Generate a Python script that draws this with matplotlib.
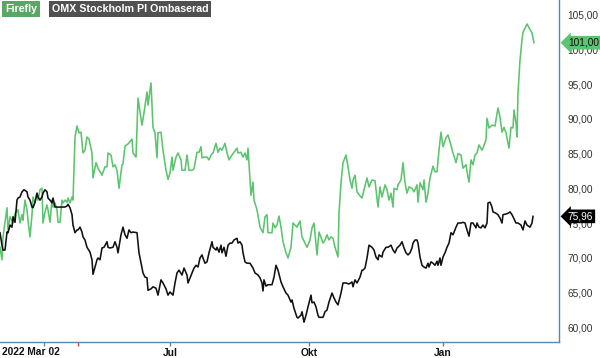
import matplotlib
matplotlib.use("Agg")
import matplotlib.pyplot as plt
import matplotlib.transforms as mtransforms

plt.rcParams['font.family'] = ['Liberation Sans', 'DejaVu Sans']

# handelsdag (x) och kurs (y)
firefly_dag = [0, 1, 1.5, 3.5, 4, 5, 6.5, 7.5, 9, 10, 11, 11.5, 12.5, 13.5, 14, 15, 16, 16.5, 17.5, 18.5,
               19, 20, 21, 21.5, 22.5, 23.5, 24, 25, 26, 26.5, 27.5, 28.5, 29, 30, 31, 31.5, 32.5, 33.5, 34, 35,
               36, 36.5, 37.5, 38.5, 39.5, 40.5, 41.5, 42.5, 43.5, 44.5, 46, 46.5, 48, 49, 51, 52.5, 53.5, 54, 55.5, 56.5,
               57.5, 58.5, 59.5, 61, 61.5, 62.5, 64, 66, 66.5, 68, 69, 71, 72, 73.5, 74, 75.5, 76.5, 77.5, 78.5, 79,
               80.5, 81.5, 83, 84, 85, 86, 86.5, 88, 89, 90.5, 91, 92.5, 93.5, 94.5, 96, 97, 98.5, 99.5, 100.5, 101,
               102, 103.5, 104.5, 105.5, 106.5, 108, 109, 110, 111, 112.5, 113.5, 114.5, 116, 117, 118.5, 119, 120.5, 121.5, 122.5, 123.5,
               124, 125, 125.5, 126.5, 127, 128.5, 130, 131.5, 132.5, 133.5, 134, 136, 136.5, 137.5, 138.5, 139.5, 140.5, 141.5, 143, 144,
               145.5, 146.5, 148.5, 150, 151, 152.5, 153.5, 155, 156, 157, 158.5, 159.5, 161, 161.5, 162.5, 163.5, 164.5, 165.5, 166.5, 167.5,
               169, 169.5, 170.5, 171.5, 173, 174, 175, 176, 176.5, 177.5, 178.5, 180, 181, 182, 183.5, 184.5, 186, 187.5, 189, 190,
               191, 192.5, 193.5, 194.5, 195.5, 196.5, 197, 198.5, 199, 200.5, 201.5, 202.5, 203.5, 204.5, 206, 207, 208.5, 209, 210, 211.5,
               212, 213, 214, 215, 216.5, 217.5, 218.5, 219.5, 220.5, 221.5, 223, 224, 225, 226.5, 228, 229, 230.5, 231.5, 233, 233.5,
               234.5, 235.5, 236.5, 237.5, 238.5, 239.5, 241, 241.5, 243, 243.5, 244.5, 246, 247.5, 249, 250, 251, 252, 253, 254.5, 255.5,
               256.5, 257, 258, 258.5, 259, 260, 261, 261.5, 263.5, 266, 267]
firefly = [71.5, 69.7, 73.0, 77.2, 74.0, 75.9, 75.0, 76.4, 76.9, 75.0, 76.2, 75.4, 78.3, 76.9, 75.4, 73.0, 76.2, 78.75, 77.9, 79.3,
           78.3, 79.8, 80.0, 75.0, 76.6, 77.6, 76.9, 75.1, 78.3, 77.3, 77.9, 76.9, 75.1, 75.1, 78.3, 77.9, 78.3, 78.0, 78.6, 77.9,
           78.75, 78.3, 87.4, 89.0, 88.0, 88.1, 85.1, 85.5, 87.4, 87.1, 85.1, 81.5, 83.7, 82.9, 81.9, 83.1, 83.1, 85.1, 84.8, 83.1,
           83.4, 82.6, 80.0, 83.4, 83.5, 86.1, 86.4, 87.1, 85.1, 84.5, 93.0, 89.1, 90.9, 93.9, 92.0, 95.2, 88.8, 88.0, 84.4, 88.0,
           88.1, 85.5, 82.6, 81.3, 82.2, 84.5, 82.6, 84.5, 85.1, 84.1, 82.6, 82.6, 84.8, 82.6, 82.6, 82.8, 85.2, 85.2, 86.0, 84.4,
           84.5, 84.5, 84.1, 84.8, 85.1, 86.5, 85.2, 85.8, 85.5, 86.5, 85.1, 84.1, 84.8, 85.2, 85.8, 85.1, 85.2, 84.5, 85.1, 84.1,
           85.8, 81.2, 79.0, 80.9, 78.3, 76.9, 74.4, 73.6, 75.9, 76.2, 73.6, 73.6, 75.0, 74.3, 74.7, 76.0, 74.4, 72.3, 70.7, 69.95,
           71.5, 75.0, 74.4, 75.3, 73.0, 72.1, 71.5, 72.55, 74.3, 75.0, 70.4, 73.7, 72.55, 72.1, 72.55, 73.3, 72.55, 73.0, 72.8, 71.5,
           70.1, 76.4, 80.8, 83.7, 84.8, 83.1, 81.2, 80.0, 81.2, 81.9, 79.5, 78.9, 78.6, 79.8, 81.5, 80.2, 81.2, 81.1, 77.3, 80.2,
           78.75, 80.5, 79.8, 78.3, 79.3, 77.3, 80.0, 79.8, 80.5, 81.2, 83.7, 80.8, 79.3, 80.2, 80.0, 79.5, 80.5, 78.0, 80.8, 79.8,
           81.2, 78.0, 79.3, 81.5, 83.2, 82.4, 82.4, 85.5, 88.1, 86.0, 87.3, 87.7, 86.7, 85.1, 83.7, 85.0, 84.8, 82.9, 83.4, 82.4,
           80.9, 84.1, 83.4, 84.8, 85.1, 86.25, 85.5, 85.8, 87.0, 90.1, 88.7, 89.1, 89.0, 91.6, 90.3, 88.1, 88.8, 88.0, 85.8, 88.8,
           88.7, 91.3, 89.4, 87.4, 93.75, 98.5, 101.4, 102.5, 103.7, 102.4, 101.0]

omx_dag = [0, 1, 1.5, 2.5, 3.5, 4, 5, 6, 6.5, 7.5, 8.5, 9, 10, 11, 12, 13.5, 14, 15, 16, 16.5,
           17.5, 18.5, 19, 20, 21, 21.5, 22.5, 23.5, 24, 25, 26, 26.5, 27.5, 28.5, 30, 31.5, 32.5, 33.5, 34, 35,
           36, 36.5, 37.5, 38.5, 39, 40, 41, 41.5, 42.5, 43.5, 45, 46, 46.5, 47.5, 48.5, 49, 50, 51, 52, 53.5,
           54, 55, 56.5, 57.5, 58.5, 59, 60.5, 61.5, 62.5, 63.5, 64.5, 65.5, 66.5, 68.5, 69.5, 71, 71.5, 72.5, 73.5, 74,
           75.5, 76.5, 78, 79, 80.5, 81.5, 83, 84, 85, 86.5, 87.5, 88.5, 89.5, 91, 92, 93.5, 94, 96, 97, 98,
           99, 100, 101, 101.5, 102.5, 103.5, 104.5, 106, 106.5, 108, 108.5, 109.5, 110.5, 111, 112, 113, 114, 115, 116, 117,
           118.5, 119, 120, 121, 121.5, 122.5, 123.5, 125, 126.5, 127.5, 129, 130, 131, 131.5, 132, 133, 134, 136, 137, 138,
           139, 140.5, 141.5, 143, 144, 145.5, 146, 147, 148.5, 149, 150.5, 151, 152, 153, 154, 155.5, 156, 157, 158, 159,
           159.5, 161.5, 162.5, 163.5, 164.5, 166, 167, 168, 169, 170.5, 171.5, 173, 174.5, 176, 176.5, 177.5, 178.5, 180, 181, 181.5,
           182.5, 183.5, 184.5, 186, 187, 188, 189, 189.5, 191, 191.5, 193, 194, 195.5, 196.5, 197.5, 198.5, 200, 201, 202, 203,
           204, 205, 206, 206.5, 207.5, 208.5, 209, 210, 211, 212, 213, 214, 214.5, 215.5, 216.5, 217.5, 218.5, 219, 220, 220.5,
           221.5, 222.5, 223.5, 224.5, 225.5, 226.5, 228, 229, 230.5, 231.5, 232.5, 233.5, 234.5, 235.5, 236.5, 238, 238.5, 239.5, 240.5, 241.5,
           242.5, 243.5, 244, 245, 246, 246.5, 248, 249, 250, 251, 251.5, 253, 254, 255, 256, 257, 258, 259, 260.5, 261.5,
           262.5, 263.5, 265, 266, 266.5]
omx = [73.6, 71.8, 71.1, 71.1, 73.7, 73.6, 74.7, 74.4, 75.9, 75.1, 78.3, 78.6, 78.75, 79.5, 79.8, 79.5, 78.75, 78.3, 77.3, 77.2,
       78.0, 79.3, 78.75, 78.3, 78.75, 79.3, 79.8, 79.5, 78.6, 78.3, 77.9, 78.6, 77.3, 77.3, 77.3, 77.3, 77.3, 77.45, 77.7, 77.2,
       76.2, 74.7, 73.6, 74.0, 74.0, 74.4, 73.7, 73.0, 72.55, 71.5, 70.8, 69.7, 67.6, 68.65, 69.7, 69.95, 69.7, 71.4, 71.5, 72.3,
       71.5, 71.4, 71.5, 72.3, 71.5, 70.7, 73.3, 74.4, 73.3, 72.8, 74.0, 73.6, 73.7, 73.6, 70.7, 68.5, 67.8, 67.2, 67.1, 65.3,
       65.5, 65.8, 65.6, 64.6, 66.8, 66.35, 65.5, 64.6, 65.05, 64.6, 66.35, 67.8, 68.2, 67.5, 68.5, 67.5, 66.35, 67.8, 68.5, 68.9,
       68.65, 69.95, 70.4, 69.95, 69.2, 69.4, 70.7, 72.3, 71.5, 71.1, 71.5, 70.8, 71.8, 70.7, 71.5, 70.2, 71.8, 72.1, 72.1, 72.55,
       72.8, 72.1, 72.3, 71.8, 70.7, 69.4, 69.2, 69.2, 68.5, 67.8, 67.5, 67.1, 66.35, 65.2, 66.8, 65.9, 66.1, 66.1, 67.2, 68.9,
       68.2, 66.5, 65.8, 64.9, 64.6, 63.6, 63.9, 62.7, 61.4, 61.3, 61.7, 62.2, 60.7, 61.7, 62.9, 64.6, 63.5, 63.6, 62.9, 61.7,
       61.4, 61.4, 62.2, 62.45, 63.6, 64.9, 64.2, 63.6, 63.2, 64.9, 66.35, 66.35, 66.2, 66.5, 65.8, 66.8, 66.35, 67.2, 68.2, 68.2,
       68.5, 69.95, 71.8, 71.5, 71.1, 70.1, 69.7, 70.4, 70.1, 70.8, 71.5, 71.5, 71.8, 71.1, 70.7, 71.4, 71.8, 72.3, 71.4, 70.7,
       70.4, 70.7, 71.4, 72.1, 72.55, 72.55, 72.1, 70.1, 68.9, 68.65, 68.5, 69.2, 68.65, 69.4, 69.2, 68.9, 69.5, 68.9, 69.95, 68.9,
       70.1, 70.7, 71.5, 72.1, 73.6, 73.3, 74.4, 75.0, 75.0, 75.1, 75.0, 74.0, 73.1, 75.0, 75.0, 74.3, 75.0, 74.4, 74.3, 74.7,
       74.3, 75.0, 77.9, 78.0, 77.3, 76.6, 76.4, 76.2, 75.7, 75.0, 76.2, 76.3, 76.4, 76.6, 76.2, 75.6, 75.0, 75.0, 74.7, 74.0,
       75.3, 74.7, 74.4, 75.0, 75.96]

serier = ['Firefly', 'OMX Stockholm PI Ombaserad']
y_ticks = [60, 65, 70, 75, 80, 85, 90, 95, 100, 105]
x_ticks = [22, 85, 154.5, 221.5]
x_labels = ['', 'Jul', 'Okt', 'Jan']
start_label = '2022 Mar 02'
markering = 39

gron = '#5cc46e'
svart = '#111111'
kant = '#5a88ad'

fig = plt.figure(figsize=(6, 3.58), dpi=100)
ax = fig.add_axes([0, 16 / 358, 559 / 600, 342 / 358])

ax.plot(firefly_dag, firefly, color=gron, lw=1.15, solid_joinstyle='round')
ax.plot(omx_dag, omx, color=svart, lw=1.15, solid_joinstyle='round')

ax.set_xlim(0, 279.5)
ax.set_ylim(57.84, 107.16)

for s in ['top', 'left']:
    ax.spines[s].set_visible(False)
for s in ['right', 'bottom']:
    ax.spines[s].set_color(kant)
    ax.spines[s].set_linewidth(1.0)

ax.yaxis.tick_right()
ax.set_yticks(y_ticks)
ax.set_yticklabels([f"{v:.2f}".replace('.', ',') for v in y_ticks])
ax.tick_params(axis='y', length=0, pad=6, labelsize=7.3, labelcolor='#333333')

ax.set_xticks(x_ticks)
ax.set_xticklabels(x_labels, fontweight='bold')
ax.tick_params(axis='x', length=3, width=1, color=kant, pad=1.5, labelsize=7.4, labelcolor='#111111')
ax.set_xticks([markering], minor=True)
ax.tick_params(axis='x', which='minor', length=3, width=1, color='#e04040')
fig.text(2 / 600, 1 - 352 / 358, start_label, fontsize=7.4, fontweight='bold', color='#111111',
         ha='left', va='center')

# värdeetiketter till höger
trans = mtransforms.blended_transform_factory(ax.transAxes, ax.transData)
ax.text(1.016, firefly[-1], f"{firefly[-1]:.2f}".replace('.', ','), transform=trans, fontsize=7.3,
        color='#111111', ha='left', va='center', clip_on=False,
        bbox=dict(boxstyle='larrow,pad=0.18', fc=gron, ec='none'))
ax.text(1.016, omx[-1], f"{omx[-1]:.2f}".replace('.', ','), transform=trans, fontsize=7.3,
        color='white', ha='left', va='center', clip_on=False,
        bbox=dict(boxstyle='larrow,pad=0.18', fc='#000000', ec='none'))

# förklaring uppe till vänster
fig.text(5 / 600, 1 - 9 / 358, serier[0], fontsize=7.7, fontweight='bold', color='white',
         ha='left', va='center', bbox=dict(boxstyle='square,pad=0.25', fc='#5aa665', ec='none'))
fig.text(52 / 600, 1 - 9 / 358, serier[1], fontsize=7.7, fontweight='bold', color='white',
         ha='left', va='center', bbox=dict(boxstyle='square,pad=0.25', fc='#505050', ec='none'))

fig.savefig('out.png', dpi=100)
